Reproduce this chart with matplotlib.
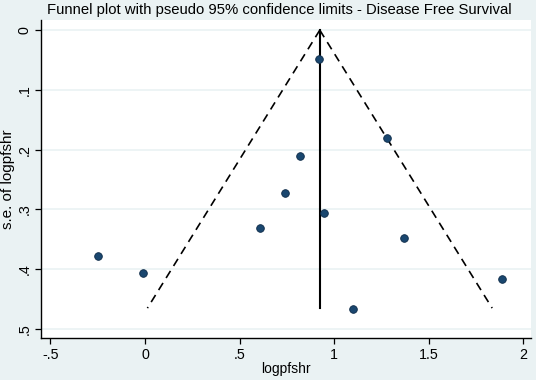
import numpy as np
import matplotlib
matplotlib.use("Agg")
import matplotlib.pyplot as plt

plt.rcParams['font.family'] = ['Liberation Sans', 'DejaVu Sans']

# study estimates (logpfshr) and their standard errors
logpfshr = [0.920, 1.277, 0.819, 0.740, 0.946, 0.608, 1.369, -0.250, -0.012, 1.885, 1.099]
se_logpfshr = [0.048, 0.181, 0.211, 0.273, 0.306, 0.331, 0.348, 0.377, 0.407, 0.416, 0.466]
pooled = 0.924
se_max = 0.465

xticks = [-0.5, 0, 0.5, 1, 1.5, 2]
xtick_labels = ["-.5", "0", ".5", "1", "1.5", "2"]
yticks = [0, 0.1, 0.2, 0.3, 0.4, 0.5]
ytick_labels = ["0", ".1", ".2", ".3", ".4", ".5"]

bg = "#eaf2f3"
fig = plt.figure(figsize=(5.36, 3.8), dpi=100, facecolor=bg)
ax = fig.add_axes([0.0765, 0.1105, 0.915, 0.8365])
ax.set_facecolor("white")

ax.set_xlim(-0.55, 2.043)
ax.set_ylim(0.515, -0.0167)

for t in yticks:
    ax.axhline(t, color=bg, lw=1.2, zorder=0)

# funnel limits
se_line = np.array([0, se_max])
ax.plot(pooled - 1.96 * se_line, se_line, color="black", ls=(0, (5, 3.5)), lw=1.2)
ax.plot(pooled + 1.96 * se_line, se_line, color="black", ls=(0, (5, 3.5)), lw=1.2)
ax.plot([pooled, pooled], [0, se_max], color="black", lw=1.5)

ax.plot(logpfshr, se_logpfshr, ls="none", marker="o", markersize=5.5,
        markerfacecolor="#1a476f", markeredgecolor="#0d2a47", markeredgewidth=0.6, zorder=3)

for side in ["top", "right"]:
    ax.spines[side].set_visible(False)
ax.spines["left"].set_linewidth(1.0)
ax.spines["bottom"].set_linewidth(1.0)

ax.set_xticks(xticks)
ax.set_xticklabels(xtick_labels, fontsize=10.3)
ax.set_yticks(yticks)
ax.set_yticklabels(ytick_labels, fontsize=10.3, rotation=90, va="center")
ax.tick_params(direction="out", length=4, width=0.9, pad=3)

ax.set_xlabel("logpfshr", fontsize=10, labelpad=0)
ax.set_ylabel("s.e. of logpfshr", fontsize=11, labelpad=2)
fig.text(0.522, 0.973, "Funnel plot with pseudo 95% confidence limits - Disease Free Survival",
         ha="center", va="center", fontsize=10.7)

fig.savefig("out.png", dpi=100, facecolor=bg)
